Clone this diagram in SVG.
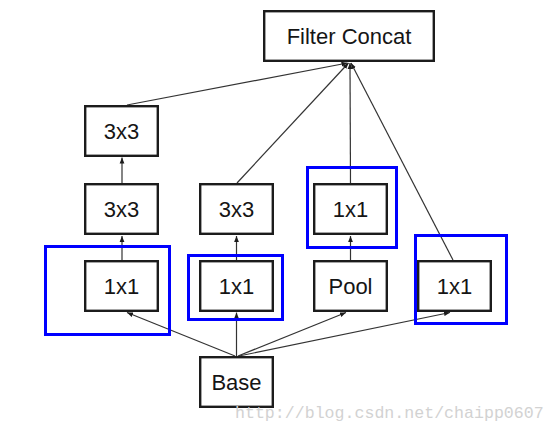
<svg xmlns="http://www.w3.org/2000/svg" width="556" height="432" viewBox="0 0 556 432">
<style>
.box{fill:#fff;stroke:#1c1c1c;stroke-width:2.4}
.lbl{font-family:"Liberation Sans",Arial,sans-serif;font-size:22px;fill:#151515;text-anchor:middle}
.edge{stroke:#333;stroke-width:1.2;fill:none;marker-end:url(#ah)}
.hl{fill:none;stroke:#0000ff;stroke-width:3}
.wm{font-family:"Liberation Mono","DejaVu Sans Mono",monospace;font-size:16.6px;fill:#d2d2d2}
</style>
<defs>
<marker id="ah" viewBox="0 0 6 6" refX="6" refY="3" markerWidth="6" markerHeight="6" markerUnits="userSpaceOnUse" orient="auto">
<path d="M0,0.6 L6,3 L0,5.4 z" fill="#1c1c1c"/>
</marker>
</defs>
<rect width="556" height="432" fill="#fff"/>
<g id="connectors">
<line class="edge" x1="127" y1="105" x2="347.5" y2="63"/>
<line class="edge" x1="237" y1="183" x2="348.5" y2="63"/>
<line class="edge" x1="350.5" y1="183" x2="350" y2="63"/>
<line class="edge" x1="453" y1="260" x2="351" y2="63"/>
<line class="edge" x1="122" y1="260" x2="122" y2="236"/>
<line class="edge" x1="122" y1="183" x2="122" y2="157.5"/>
<line class="edge" x1="236.5" y1="260" x2="236.5" y2="236"/>
<line class="edge" x1="350.5" y1="260" x2="350.5" y2="236"/>
<line class="edge" x1="235" y1="356" x2="127" y2="312.5"/>
<line class="edge" x1="236.5" y1="356" x2="236.5" y2="312.5"/>
<line class="edge" x1="238" y1="356" x2="346" y2="312.5"/>
<line class="edge" x1="239" y1="356" x2="450" y2="312.5"/>
</g>
<g id="filter-concat"><rect class="box" x="264.2" y="11.2" width="169.6" height="49.6"/><text class="lbl" x="349" y="44">Filter Concat</text></g>
<g id="c1-3x3-top"><rect class="box" x="85.2" y="106.2" width="72.6" height="49.6"/><text class="lbl" x="121.5" y="139">3x3</text></g>
<g id="c1-3x3"><rect class="box" x="85.2" y="184.2" width="72.6" height="49.6"/><text class="lbl" x="121.5" y="217">3x3</text></g>
<g id="c1-1x1"><rect class="box" x="85.2" y="261.2" width="72.6" height="49.6"/><text class="lbl" x="121.5" y="294">1x1</text></g>
<g id="c2-3x3"><rect class="box" x="200.2" y="184.2" width="72.6" height="49.6"/><text class="lbl" x="236.5" y="217">3x3</text></g>
<g id="c2-1x1"><rect class="box" x="200.2" y="261.2" width="72.6" height="49.6"/><text class="lbl" x="236.5" y="294">1x1</text></g>
<g id="c3-1x1"><rect class="box" x="314.2" y="184.2" width="72.6" height="49.6"/><text class="lbl" x="350.5" y="217">1x1</text></g>
<g id="c3-pool"><rect class="box" x="314.2" y="261.2" width="72.6" height="49.6"/><text class="lbl" x="350.5" y="294">Pool</text></g>
<g id="c4-1x1"><rect class="box" x="418.2" y="261.2" width="72.6" height="49.6"/><text class="lbl" x="454.5" y="294">1x1</text></g>
<g id="base"><rect class="box" x="200.2" y="357.2" width="72.6" height="49.6"/><text class="lbl" x="236.5" y="390">Base</text></g>
<g id="highlights">
<rect class="hl" x="45.5" y="246.5" width="124" height="88"/>
<rect class="hl" x="188.5" y="255.5" width="94" height="64"/>
<rect class="hl" x="307.5" y="167.5" width="89" height="80"/>
<rect class="hl" x="415.5" y="235.5" width="91" height="88"/>
</g>
<text class="wm" x="235" y="418">http://blog.csdn.net/chaipp0607</text>
</svg>
